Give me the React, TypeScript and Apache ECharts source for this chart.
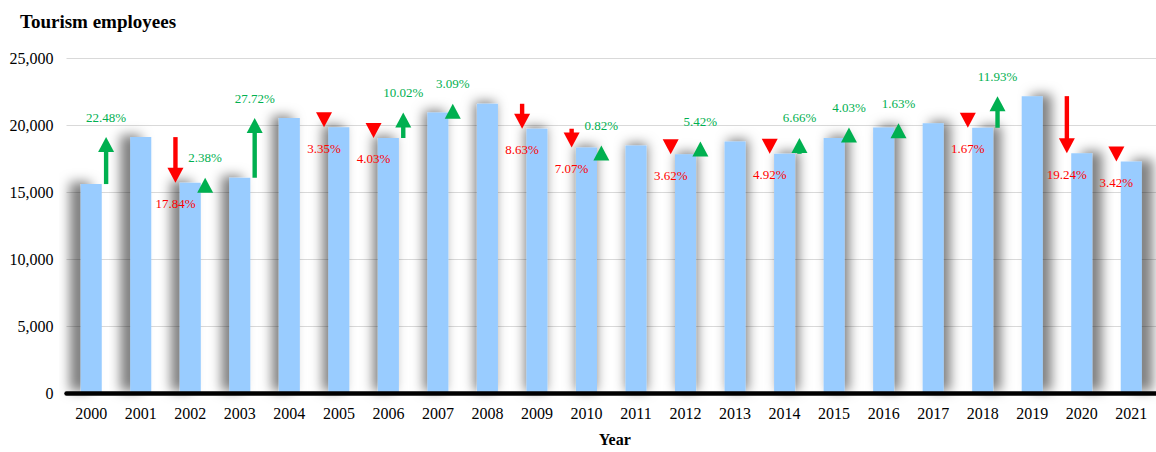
import React, { useEffect, useRef } from "react";
import * as echarts from "echarts";

const years = ["2000","2001","2002","2003","2004","2005","2006","2007","2008","2009","2010","2011","2012","2013","2014","2015","2016","2017","2018","2019","2020","2021"];
const employees = [15606, 19114, 15704, 16078, 20535, 19847, 19047, 20956, 21603, 19739, 18343, 18493, 17824, 18790, 17866, 19056, 19824, 20147, 19811, 22174, 17908, 17296];
// year-on-year change labels for 2001..2021
const changeLabels = ["22.48%","17.84%","2.38%","27.72%","3.35%","4.03%","10.02%","3.09%","8.63%","7.07%","0.82%","3.62%","5.42%","4.92%","6.66%","4.03%","1.63%","1.67%","11.93%","19.24%","3.42%"];
const yTicks = [0, 5000, 10000, 15000, 20000, 25000];

const SERIF = "'Liberation Serif', 'Times New Roman', serif";
const BAR = "#99CCFF";
const GREEN = "#00B050";
const RED = "#FF0000";

export default function App() {
  const ref = useRef<HTMLDivElement>(null);
  useEffect(() => {
    if (!ref.current) return;
    const chart = echarts.init(ref.current, null, { renderer: "svg" });
    const n = years.length;
    const barData = employees.map((v, i) => ({
      value: v,
      itemStyle: {
        shadowColor: "rgba(0,0,0,0.5)",
        shadowBlur: 12,
        shadowOffsetX: -11 + (22 * i) / (n - 1),
        shadowOffsetY: -2,
      },
    }));
    const arrowData = changeLabels.map((lab, k) => [k + 1, employees[k], employees[k + 1], lab]);

    chart.setOption({
      animation: false,
      title: {
        text: "Tourism employees",
        left: 15,
        top: 7,
        textStyle: { fontFamily: SERIF, fontSize: 19, fontWeight: "bold", color: "#000" },
      },
      grid: { left: 66.5, top: 58.3, width: 1093.5, height: 339, containLabel: false },
      xAxis: {
        type: "category",
        data: years,
        z: 10,
        name: "Year",
        nameLocation: "middle",
        nameGap: 38,
        nameTextStyle: { fontFamily: SERIF, fontSize: 16, fontWeight: "bold", color: "#000", padding: [0, 0, 0, 7] },
        axisLine: { show: true, lineStyle: { color: "#000", width: 4.5 } },
        axisTick: { show: false },
        axisLabel: { fontFamily: SERIF, fontSize: 16, color: "#000", margin: 12 },
      },
      yAxis: {
        type: "value",
        min: yTicks[0],
        max: yTicks[yTicks.length - 1],
        interval: yTicks[1] - yTicks[0],
        axisLine: { show: false },
        axisTick: { show: false },
        splitLine: { lineStyle: { color: "#D9D9D9", width: 1 } },
        axisLabel: {
          fontFamily: SERIF,
          fontSize: 16,
          color: "#000",
          margin: 13,
          formatter: (v: number) => v.toLocaleString("en-US"),
        },
      },
      series: [
        {
          type: "bar",
          data: barData,
          barWidth: 21,
          itemStyle: { color: BAR },
          z: 2,
        },
        {
          type: "custom",
          z: 5,
          data: arrowData,
          encode: { x: 0, y: [1, 2] },
          renderItem: (params: any, api: any) => {
            const i = api.value(0);
            const prev = api.value(1);
            const cur = api.value(2);
            const lab = changeLabels[i - 1];
            const bw = api.size([1, 0])[0];
            const up = cur > prev;
            const x = up ? api.coord([i - 1, prev])[0] + 0.3 * bw : api.coord([i, cur])[0] - 0.3 * bw;
            const yPrev = api.coord([i, prev])[1];
            const yCur = api.coord([i, cur])[1];
            const H = 15;
            const hw = 8;
            const sw = 2.2;
            const color = up ? GREEN : RED;
            const children: any[] = [];
            if (up) {
              const base = yCur + H;
              if (yPrev > base) {
                children.push({ type: "rect", shape: { x: x - sw, y: base - 1, width: sw * 2, height: yPrev - base + 1 }, style: { fill: color } });
              }
              children.push({ type: "polygon", shape: { points: [[x, yCur], [x - hw, base], [x + hw, base]] }, style: { fill: color } });
              children.push({ type: "text", style: { text: lab, x, y: yCur - 20, align: "center", verticalAlign: "middle", fill: color, font: `13px ${SERIF}` } });
            } else {
              const base = yCur - H;
              if (yPrev < base) {
                children.push({ type: "rect", shape: { x: x - sw, y: yPrev, width: sw * 2, height: base - yPrev + 1 }, style: { fill: color } });
              }
              children.push({ type: "polygon", shape: { points: [[x, yCur], [x - hw, base], [x + hw, base]] }, style: { fill: color } });
              children.push({ type: "text", style: { text: lab, x, y: yCur + 21, align: "center", verticalAlign: "middle", fill: color, font: `13px ${SERIF}` } });
            }
            return { type: "group", children };
          },
        },
      ],
    });
    return () => chart.dispose();
  }, []);
  return <div ref={ref} style={{ position: "fixed", left: 0, top: 0, width: 1156, height: 452, background: "#fff" }} />;
}
